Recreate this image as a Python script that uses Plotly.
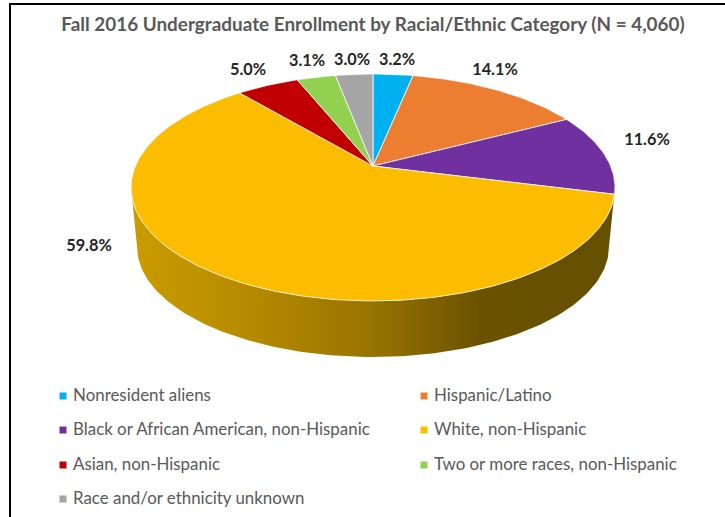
import numpy as np
import plotly.graph_objects as go

# ---- data ----
categories = ["Nonresident aliens", "Hispanic/Latino",
              "Black or African American, non-Hispanic", "White, non-Hispanic",
              "Asian, non-Hispanic", "Two or more races, non-Hispanic",
              "Race and/or ethnicity unknown"]
values = [3.2, 14.1, 11.6, 59.8, 5.0, 3.1, 3.0]
title_text = "Fall 2016 Undergraduate Enrollment by Racial/Ethnic Category (N = 4,060)"

# ---- styles and layout constants ----
colors = ["#00B0F0", "#ED7D31", "#7030A0", "#FCBD00", "#C00000", "#92D050", "#A5A5A5"]
wall_scale = [[0, "#cb9c00"], [0.25, "#b58a00"], [0.5, "#977300"], [0.72, "#6b5200"], [1, "#645000"]]
W, H = 725, 517
HUB_X, HUB_Y = 373, 166          # pixel position of the pie hub
UX, UY = 237.6, 109.4            # pixels per axis unit
PERSP = 0.1894                   # perspective foreshortening
WALL_SX, WALL_SY, WALL_DY = 0.975, 0.969, 0.55
label_px = [(397, 61), (495, 71), (647, 141), (89, 247), (248, 71), (307, 62), (352, 61)]
legend_px = [(63, 397), (424, 397), (63, 431), (424, 431), (63, 466), (424, 466), (63, 500)]
TEXT_GAP = 10


def project(deg):
    t = np.radians(deg)
    X, Y = np.sin(t), np.cos(t)
    d = 1 + PERSP * Y
    return X / d, Y / d


total = sum(values)
edges = np.concatenate([[0], np.cumsum(values)]) / total * 360

fig = go.Figure()

# side wall: runs between the two points where the projected rim is widest
a_right = np.degrees(np.arccos(-PERSP))
rim = np.linspace(a_right, 360 - a_right, 160)
tx, ty = project(rim)
bx, by = tx * WALL_SX, ty * WALL_SY - WALL_DY
fig.add_trace(go.Scatter(
    x=np.concatenate([tx, bx[::-1]]), y=np.concatenate([ty, by[::-1]]),
    mode="lines", fill="toself", line=dict(width=0),
    fillgradient=dict(type="horizontal", colorscale=wall_scale),
    hoverinfo="skip", showlegend=False))

# top face slices
for i, (name, val, col) in enumerate(zip(categories, values, colors)):
    angles = np.linspace(edges[i], edges[i + 1], max(int(val * 4), 8))
    ax, ay = project(angles)
    fig.add_trace(go.Scatter(
        x=np.concatenate([[0], ax, [0]]), y=np.concatenate([[0], ay, [0]]),
        mode="lines", fill="toself", fillcolor=col,
        line=dict(color="rgba(255,255,255,0.75)", width=1),
        name=name, text=f"{val:.1f}%", hoverinfo="name+text", showlegend=False))

# percent labels
fig.add_trace(go.Scatter(
    x=[p[0] for p in label_px], y=[p[1] for p in label_px],
    xaxis="x2", yaxis="y2", mode="text",
    text=[f"{v:.1f}%" for v in values],
    textfont=dict(family="Lato", size=16.3, color="#262626", weight="bold"),
    hoverinfo="skip", showlegend=False))

# legend drawn as square marker + real text
for (lx, ly), name, col in zip(legend_px, categories, colors):
    fig.add_trace(go.Scatter(
        x=[lx], y=[ly - 1], xaxis="x2", yaxis="y2", mode="markers",
        marker=dict(symbol="square", size=7, color=col, line=dict(width=0)),
        hoverinfo="skip", showlegend=False))
    fig.add_trace(go.Scatter(
        x=[lx + TEXT_GAP], y=[ly], xaxis="x2", yaxis="y2", mode="text",
        text=[name], textposition="middle right",
        textfont=dict(family="Lato", size=16.9, color="#595959"),
        hoverinfo="skip", showlegend=False))

hidden = dict(visible=False, showgrid=False, zeroline=False, fixedrange=True)
fig.update_layout(
    width=W, height=H, autosize=False,
    margin=dict(l=0, r=0, t=0, b=0),
    paper_bgcolor="white", plot_bgcolor="rgba(0,0,0,0)",
    showlegend=False,
    title=dict(text=title_text, x=373 / W, xanchor="center", y=1 - 24 / H, yanchor="middle",
               font=dict(family="Lato", size=18.9, color="#595959", weight="bold")),
    xaxis=dict(range=[-HUB_X / UX, (W - HUB_X) / UX], **hidden),
    yaxis=dict(range=[-(H - HUB_Y) / UY, HUB_Y / UY], **hidden),
    xaxis2=dict(range=[0, W], overlaying="x", anchor="y2", **hidden),
    yaxis2=dict(range=[H, 0], overlaying="y", anchor="x2", **hidden),
    shapes=[
        dict(type="rect", xref="paper", yref="paper", x0=9 / W, x1=1, y0=1 - 5 / H, y1=1 - 3 / H,
             fillcolor="black", line_width=0),
        dict(type="rect", xref="paper", yref="paper", x0=9 / W, x1=11 / W, y0=0, y1=1 - 3 / H,
             fillcolor="black", line_width=0),
    ],
)
fig.write_html("out.html", config=dict(displayModeBar=False),
               post_script="document.body.style.margin='0';document.documentElement.style.overflow='hidden';")
